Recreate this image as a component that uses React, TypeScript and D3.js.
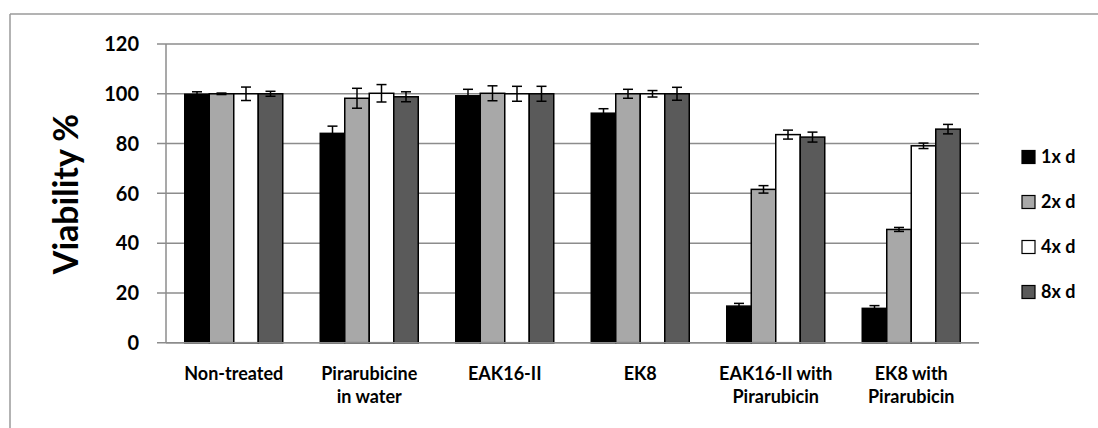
import React from "react";
import * as d3 from "d3";

// Treatment groups (each label split into its display lines)
const groupLines: string[][] = [
  ["Non-treated"],
  ["Pirarubicine", "in water"],
  ["EAK16-II"],
  ["EK8"],
  ["EAK16-II with", "Pirarubicin"],
  ["EK8 with", "Pirarubicin"],
];
const groups = groupLines.map((l) => l.join(" "));

// Dilution series
const seriesNames = ["1x d", "2x d", "4x d", "8x d"];
const seriesColors = ["#000000", "#a8a8a8", "#ffffff", "#5a5a5a"];

// Mean viability (%) per series, one value per group
const mean1x = [99.8, 84.1, 99.2, 92.2, 14.7, 13.8];
const mean2x = [100, 98.2, 100.2, 100, 61.6, 45.5];
const mean4x = [100, 100.2, 100, 100, 83.6, 79.1];
const mean8x = [100, 98.8, 100, 100, 82.6, 85.8];

// Standard deviations
const err1x = [1.0, 2.9, 2.6, 1.8, 1.1, 1.1];
const err2x = [0.3, 4.0, 3.0, 1.8, 1.5, 0.8];
const err4x = [2.7, 3.5, 3.0, 1.3, 1.8, 1.1];
const err8x = [1.0, 2.0, 3.0, 2.6, 2.0, 1.9];

const yTicks = [0, 20, 40, 60, 80, 100, 120];

const means = [mean1x, mean2x, mean4x, mean8x];
const errs = [err1x, err2x, err4x, err8x];

const W = 1098;
const H = 428;
const left = 166;
const right = 979;
const top = 44;
const bottom = 342.7;
const FONT = "Lato, 'DejaVu Sans', sans-serif";

export default function App() {
  const x0 = d3.scaleBand<string>().domain(groups).range([left, right]).padding(0);
  const gap = 18.75;
  const x1 = d3
    .scaleBand<string>()
    .domain(seriesNames)
    .range([gap, x0.bandwidth() - gap])
    .padding(0);
  const y = d3.scaleLinear().domain([0, 120]).range([bottom, top]);
  const capHalf = 5;

  return (
    <svg
      width={W}
      height={H}
      style={{ position: "absolute", left: 0, top: 0, background: "#fff" }}
      fontFamily={FONT}
    >
      {/* chart frame */}
      <line x1={10} x2={W} y1={14} y2={14} stroke="#9a9a9a" strokeWidth={1.5} />
      <line x1={10} x2={10} y1={14} y2={H} stroke="#9a9a9a" strokeWidth={1.5} />

      {/* gridlines */}
      {yTicks.map((t) => (
        <line
          key={"g" + t}
          x1={left - 9}
          x2={right}
          y1={y(t)}
          y2={y(t)}
          stroke="#8c8c8c"
          strokeWidth={1.5}
        />
      ))}
      {/* y axis */}
      <line x1={left} x2={left} y1={top} y2={bottom} stroke="#8c8c8c" strokeWidth={1.5} />
      {yTicks.map((t) => (
        <text
          key={"t" + t}
          x={139}
          y={y(t)}
          dy="0.36em"
          textAnchor="end"
          fontSize={20}
          fontWeight={700}
        >
          {t}
        </text>
      ))}
      <text
        transform={`translate(78,194) rotate(-90)`}
        textAnchor="middle"
        fontSize={34}
        fontWeight={700}
      >
        Viability %
      </text>

      {/* bars */}
      {groups.map((g, gi) => (
        <g key={g} transform={`translate(${x0(g)},0)`}>
          {seriesNames.map((s, si) => {
            const v = means[si][gi];
            const e = errs[si][gi];
            const bx = x1(s)!;
            const cx = bx + x1.bandwidth() / 2;
            return (
              <g key={s}>
                <rect
                  x={bx}
                  y={y(v)}
                  width={x1.bandwidth()}
                  height={bottom - y(v)}
                  fill={seriesColors[si]}
                  stroke="#000"
                  strokeWidth={1.5}
                />
                <line x1={cx} x2={cx} y1={y(v + e)} y2={y(v - e)} stroke="#000" strokeWidth={1.5} />
                <line x1={cx - capHalf} x2={cx + capHalf} y1={y(v + e)} y2={y(v + e)} stroke="#000" strokeWidth={1.5} />
                <line x1={cx - capHalf} x2={cx + capHalf} y1={y(v - e)} y2={y(v - e)} stroke="#000" strokeWidth={1.5} />
              </g>
            );
          })}
        </g>
      ))}
      {/* x axis */}
      <line x1={left} x2={right} y1={bottom} y2={bottom} stroke="#8c8c8c" strokeWidth={1.5} />
      {groups.map((g, gi) => (
        <text
          key={"xl" + g}
          x={x0(g)! + x0.bandwidth() / 2}
          y={380}
          textAnchor="middle"
          fontSize={18}
          fontWeight={700}
        >
          {groupLines[gi].map((ln, li) => (
            <tspan key={li} x={x0(g)! + x0.bandwidth() / 2} dy={li === 0 ? 0 : 23}>
              {ln}
            </tspan>
          ))}
        </text>
      ))}

      {/* legend */}
      {seriesNames.map((s, si) => (
        <g key={"lg" + s} transform={`translate(1022,${157 + si * 45})`}>
          <rect x={0} y={-6.5} width={13} height={13} fill={seriesColors[si]} stroke="#000" strokeWidth={1.2} />
          <text x={19} y={0} dy="0.36em" fontSize={18} fontWeight={700}>
            {s}
          </text>
        </g>
      ))}
    </svg>
  );
}
